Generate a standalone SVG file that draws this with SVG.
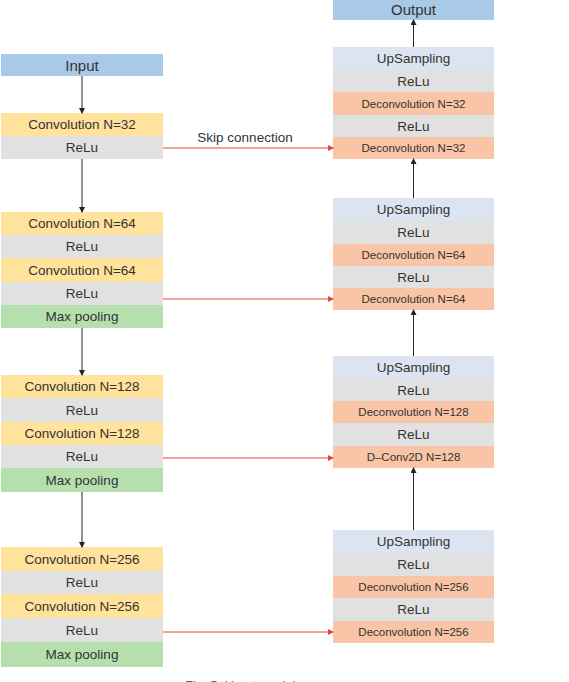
<svg xmlns="http://www.w3.org/2000/svg" width="569" height="682" viewBox="0 0 569 682">
<style>
text{font-family:"Liberation Sans","Noto Sans",sans-serif;fill:#333;text-anchor:middle}
.t{font-size:13.5px}
.s{font-size:11.5px}
.io{font-size:15px}
.blue{fill:#a9c9e8}
.yel{fill:#ffe29b}
.gray{fill:#e1e1e1}
.grn{fill:#b6dfae}
.up{fill:#dce4f2}
.dec{fill:#fac4a6}
.blk{stroke:#222;stroke-width:1;fill:none}
.red{stroke:#e8483c;stroke-width:1;fill:none}
</style>
<defs>
<marker id="ab" markerWidth="6" markerHeight="6" refX="5" refY="3" orient="auto" markerUnits="userSpaceOnUse"><path d="M0,0 L6,3 L0,6 z" fill="#222"/></marker>
<marker id="ar" markerWidth="6" markerHeight="6" refX="5" refY="3" orient="auto" markerUnits="userSpaceOnUse"><path d="M0,0 L6,3 L0,6 z" fill="#e8483c"/></marker>
</defs>
<rect width="569" height="682" fill="#fff"/>

<g id="input"><rect class="blue" x="1" y="54" width="162" height="22"/><text class="io" x="82" y="70.5">Input</text></g>

<g id="enc1">
<rect class="yel" x="1" y="113" width="162" height="23"/><text class="t" x="82" y="129">Convolution N=32</text>
<rect class="gray" x="1" y="136" width="162" height="23"/><text class="t" x="82" y="152">ReLu</text>
</g>

<g id="enc2">
<rect class="yel" x="1" y="212" width="162" height="23"/><text class="t" x="82" y="228">Convolution N=64</text>
<rect class="gray" x="1" y="235" width="162" height="23"/><text class="t" x="82" y="251">ReLu</text>
<rect class="yel" x="1" y="258" width="162" height="24"/><text class="t" x="82" y="274.5">Convolution N=64</text>
<rect class="gray" x="1" y="282" width="162" height="23"/><text class="t" x="82" y="298">ReLu</text>
<rect class="grn" x="1" y="305" width="162" height="23"/><text class="t" x="82" y="321">Max pooling</text>
</g>

<g id="enc3">
<rect class="yel" x="1" y="375" width="162" height="23"/><text class="t" x="82" y="391">Convolution N=128</text>
<rect class="gray" x="1" y="398" width="162" height="24"/><text class="t" x="82" y="414.5">ReLu</text>
<rect class="yel" x="1" y="422" width="162" height="23"/><text class="t" x="82" y="438">Convolution N=128</text>
<rect class="gray" x="1" y="445" width="162" height="23"/><text class="t" x="82" y="461">ReLu</text>
<rect class="grn" x="1" y="468" width="162" height="24"/><text class="t" x="82" y="484.5">Max pooling</text>
</g>

<g id="enc4">
<rect class="yel" x="1" y="547" width="162" height="24"/><text class="t" x="82" y="563.5">Convolution N=256</text>
<rect class="gray" x="1" y="571" width="162" height="23"/><text class="t" x="82" y="587">ReLu</text>
<rect class="yel" x="1" y="594" width="162" height="24"/><text class="t" x="82" y="610.5">Convolution N=256</text>
<rect class="gray" x="1" y="618" width="162" height="24"/><text class="t" x="82" y="634.5">ReLu</text>
<rect class="grn" x="1" y="642" width="162" height="25"/><text class="t" x="82" y="659">Max pooling</text>
</g>

<g id="output"><rect class="blue" x="333" y="0" width="161" height="20"/><text class="io" x="413.5" y="15">Output</text></g>

<g id="dec1">
<rect class="up" x="333" y="47" width="161" height="23"/><text class="t" x="413.5" y="63">UpSampling</text>
<rect class="gray" x="333" y="70" width="161" height="22"/><text class="t" x="413.5" y="85.5">ReLu</text>
<rect class="dec" x="333" y="92" width="161" height="23"/><text class="s" x="413.5" y="107.5">Deconvolution N=32</text>
<rect class="gray" x="333" y="115" width="161" height="22"/><text class="t" x="413.5" y="130.5">ReLu</text>
<rect class="dec" x="333" y="137" width="161" height="22"/><text class="s" x="413.5" y="152">Deconvolution N=32</text>
</g>

<g id="dec2">
<rect class="up" x="333" y="198" width="161" height="23"/><text class="t" x="413.5" y="214">UpSampling</text>
<rect class="gray" x="333" y="221" width="161" height="23"/><text class="t" x="413.5" y="237">ReLu</text>
<rect class="dec" x="333" y="244" width="161" height="22"/><text class="s" x="413.5" y="259">Deconvolution N=64</text>
<rect class="gray" x="333" y="266" width="161" height="22"/><text class="t" x="413.5" y="281.5">ReLu</text>
<rect class="dec" x="333" y="288" width="161" height="22"/><text class="s" x="413.5" y="303">Deconvolution N=64</text>
</g>

<g id="dec3">
<rect class="up" x="333" y="356" width="161" height="23"/><text class="t" x="413.5" y="372">UpSampling</text>
<rect class="gray" x="333" y="379" width="161" height="22"/><text class="t" x="413.5" y="394.5">ReLu</text>
<rect class="dec" x="333" y="401" width="161" height="22"/><text class="s" x="413.5" y="416">Deconvolution N=128</text>
<rect class="gray" x="333" y="423" width="161" height="23"/><text class="t" x="413.5" y="439">ReLu</text>
<rect class="dec" x="333" y="446" width="161" height="22"/><text class="s" x="413.5" y="461">D–Conv2D N=128</text>
</g>

<g id="dec4">
<rect class="up" x="333" y="530" width="161" height="23"/><text class="t" x="413.5" y="546">UpSampling</text>
<rect class="gray" x="333" y="553" width="161" height="23"/><text class="t" x="413.5" y="569">ReLu</text>
<rect class="dec" x="333" y="576" width="161" height="22"/><text class="s" x="413.5" y="591">Deconvolution N=256</text>
<rect class="gray" x="333" y="598" width="161" height="23"/><text class="t" x="413.5" y="614">ReLu</text>
<rect class="dec" x="333" y="621" width="161" height="22"/><text class="s" x="413.5" y="636">Deconvolution N=256</text>
</g>

<g id="connectors">
<line class="blk" x1="82" y1="76" x2="82" y2="113" marker-end="url(#ab)"/>
<line class="blk" x1="82" y1="159" x2="82" y2="212" marker-end="url(#ab)"/>
<line class="blk" x1="82" y1="328" x2="82" y2="375" marker-end="url(#ab)"/>
<line class="blk" x1="82" y1="492" x2="82" y2="547" marker-end="url(#ab)"/>
<line class="blk" x1="413.5" y1="530" x2="413.5" y2="468" marker-end="url(#ab)"/>
<line class="blk" x1="413.5" y1="356" x2="413.5" y2="310" marker-end="url(#ab)"/>
<line class="blk" x1="413.5" y1="198" x2="413.5" y2="159" marker-end="url(#ab)"/>
<line class="blk" x1="413.5" y1="47" x2="413.5" y2="20" marker-end="url(#ab)"/>
<line class="red" x1="163" y1="148" x2="333" y2="148" marker-end="url(#ar)"/>
<line class="red" x1="163" y1="299" x2="333" y2="299" marker-end="url(#ar)"/>
<line class="red" x1="163" y1="458" x2="333" y2="458" marker-end="url(#ar)"/>
<line class="red" x1="163" y1="632" x2="333" y2="632" marker-end="url(#ar)"/>
<text class="t" x="245" y="141.5">Skip connection</text>
</g>

<text x="185" y="690" style="font-size:13px;fill:#666;text-anchor:start">Fig. 5. U-net model</text>
</svg>
